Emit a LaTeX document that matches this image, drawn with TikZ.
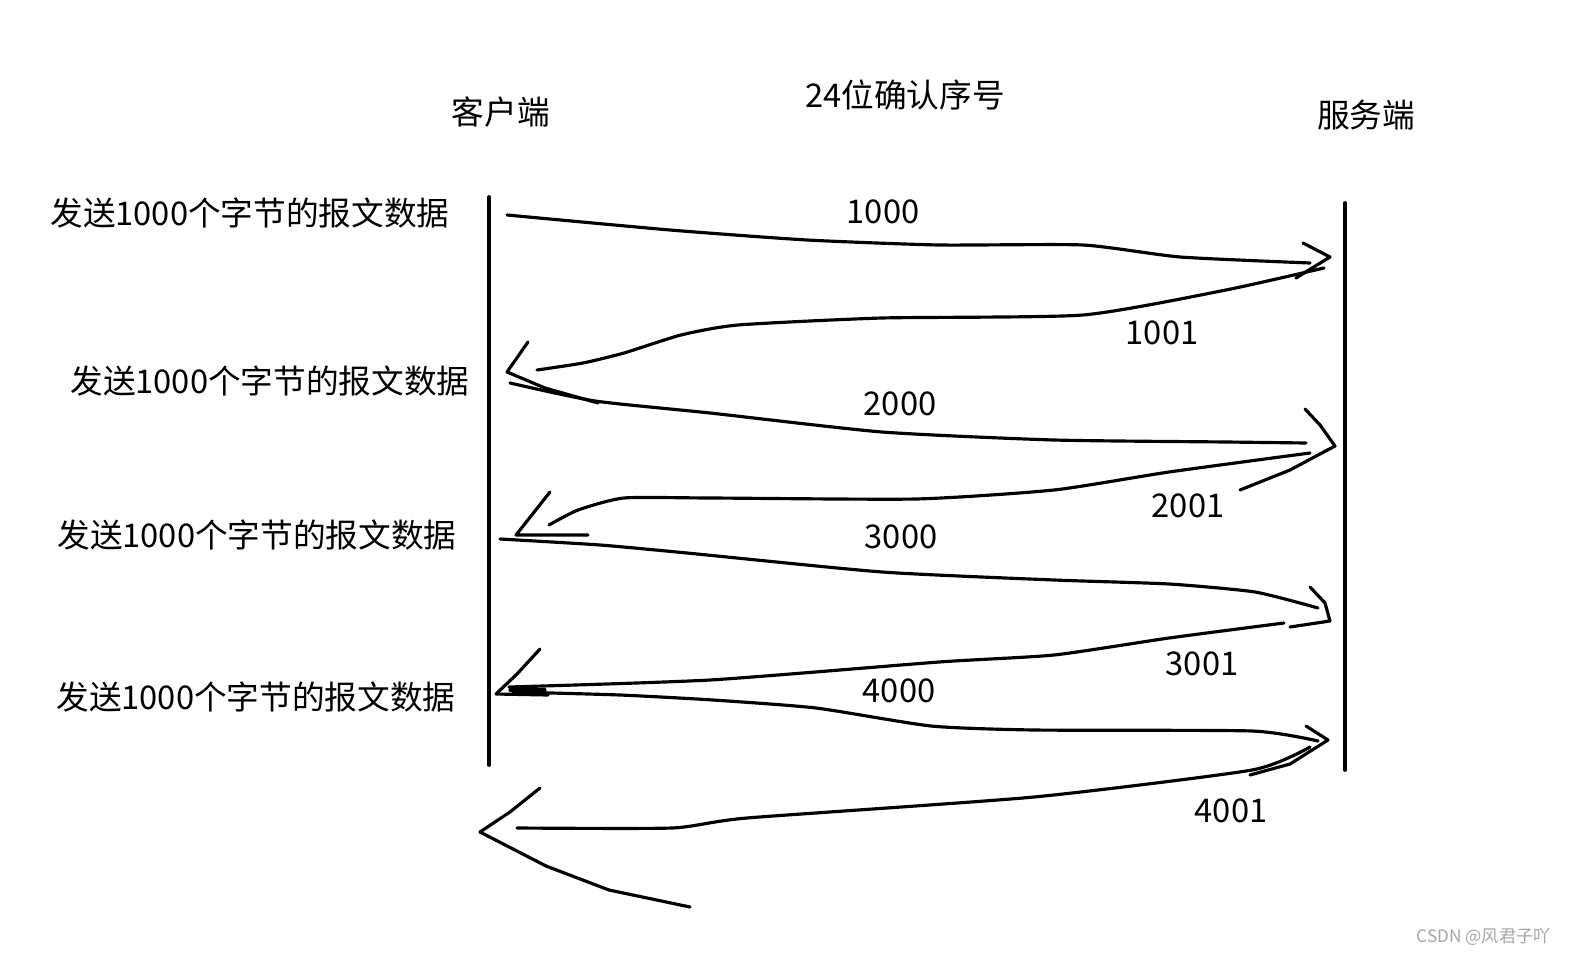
\documentclass[tikz,border=0pt]{standalone}
\usepackage{fontspec}
\setmainfont{Noto Sans CJK SC}
\usepackage{tikz}
\usetikzlibrary{positioning}

\begin{document}
\begin{tikzpicture}[
  x={(0.02cm,0cm)},y={(0cm,-0.02cm)},
  font=\fontsize{18.6}{20}\selectfont,
  pen/.style={line width=1.8pt,line cap=round,line join=round},
  stroke/.style={pen,smooth,tension=0.35},
  lbl/.style={inner sep=0pt}
]
  \useasboundingbox (0,0) rectangle (1574,959);
  % ends
  \node[lbl] (client) at (501,112) {客户端};
  \node[lbl] (title) at (905,95) {24位确认序号};
  \node[lbl] (server) at (1366,115) {服务端};
  % time lines
  \coordinate (ctop) at (489,197);
  \coordinate (cbot) at (489,765);
  \coordinate (stop) at (1345,203);
  \coordinate (sbot) at (1345,770);
  \draw[pen,line width=2.2pt] (ctop) -- (cbot);
  \draw[pen,line width=2.2pt] (stop) -- (sbot);
  % sends
  \node[lbl] (send1) at (250,213) {发送1000个字节的报文数据};
  \node[lbl] (send2) at (270,381) {发送1000个字节的报文数据};
  \node[lbl] (send3) at (257,535) {发送1000个字节的报文数据};
  \node[lbl] (send4) at (256,697) {发送1000个字节的报文数据};
  % sequence numbers
  \node[lbl] (seq1) at (883,212) {1000};
  \node[lbl] (ack1) at (1162,333) {1001};
  \node[lbl] (seq2) at (900,404) {2000};
  \node[lbl] (ack2) at (1188,506) {2001};
  \node[lbl] (seq3) at (901,537) {3000};
  \node[lbl] (ack3) at (1202,664) {3001};
  \node[lbl] (seq4) at (899,691) {4000};
  \node[lbl] (ack4) at (1231,811) {4001};
  % 1000 ->
  \draw[stroke] plot coordinates {(507,215) (670,230) (807,240) (939,245) (1083,245) (1180,257) (1310,263)};
  \draw[pen] (1303,243) -- (1330,257) -- (1296,278);
  % <- 1001
  \draw[stroke] plot coordinates {(1324,268) (1226,290) (1083,315) (882,318) (738,325) (681,335) (624,353) (583,363) (537,370)};
  \draw[pen] (528,342) -- (507,372) -- (545,388) -- (598,403);
  % 2000 ->
  \draw[stroke] plot coordinates {(510,383) (595,401) (710,413) (882,432) (1054,440) (1226,442) (1306,443)};
  \draw[pen] (1305,409) -- (1320,425) -- (1335,446) -- (1290,470) -- (1240,490);
  % <- 2001
  \draw[stroke] plot coordinates {(1310,453) (1169,472) (1054,490) (916,499) (710,498) (624,498) (578,510) (549,525)};
  \draw[pen] (550,492) -- (516,535) -- (588,535);
  % 3000 ->
  \draw[stroke] plot coordinates {(500,539) (600,545) (687,553) (882,572) (1054,580) (1169,584) (1255,592) (1318,608)};
  \draw[pen] (1310,587) -- (1325,603) -- (1330,621) -- (1290,627);
  % <- 3001
  \draw[stroke] plot coordinates {(1284,623) (1169,638) (1054,655) (939,662) (710,680) (509,687)};
  \draw[pen] (540,649) -- (517,674) -- (496,694) -- (548,695);
  \draw[pen] (510,690) -- (545,690);
  % 4000 ->
  \draw[stroke] plot coordinates {(513,692) (620,695) (713,700) (816,708) (931,726) (1034,730) (1252,731) (1318,741)};
  \draw[pen] (1306,726) -- (1328,740) -- (1290,764) -- (1250,775);
  % <- 4001
  \draw[stroke] plot coordinates {(1310,747) (1252,770) (1034,797) (747,818) (672,828) (517,828)};
  \draw[pen] (540,788) -- (510,812) -- (480,832) -- (546,866) -- (609,890) -- (690,907);
  % watermark
  \node[lbl,text=black!35,font=\fontsize{9.8}{12}\selectfont,anchor=east] (mark) at (1551,937) {CSDN @风君子吖};
\end{tikzpicture}
\end{document}
